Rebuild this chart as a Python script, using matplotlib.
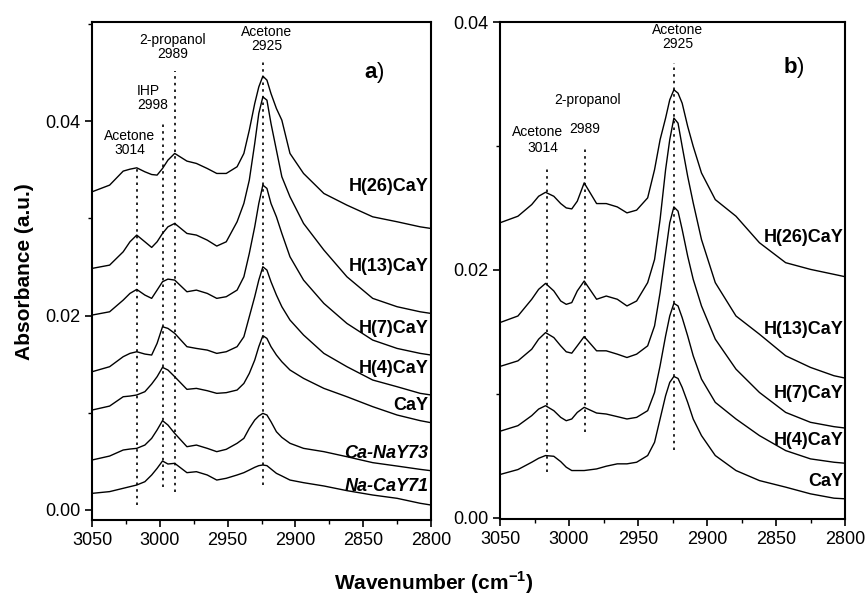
import matplotlib
matplotlib.use('Agg')
import matplotlib.pyplot as plt
from matplotlib.ticker import MultipleLocator

plt.rcParams['font.family'] = ['Liberation Sans', 'DejaVu Sans']
plt.rcParams['mathtext.fontset'] = 'custom'
plt.rcParams['mathtext.rm'] = 'Liberation Sans'
plt.rcParams['mathtext.bf'] = 'Liberation Sans:bold'

# wavenumber grid (cm-1) shared by all spectra
wn = [3050, 3037, 3027, 3022, 3017, 3011, 3006, 3002, 2998, 2994, 2989, 2980, 2973,
      2965, 2958, 2951, 2943, 2938, 2934, 2930, 2927, 2924, 2921, 2918, 2914, 2910,
      2904, 2894, 2879, 2862, 2843, 2825, 2808, 2800]

# panel a spectra
a_h26 = [0.03273, 0.03342, 0.03486, 0.03506, 0.03520, 0.03479, 0.03451, 0.03445, 0.03513,
         0.03599, 0.03668, 0.03589, 0.03565, 0.03513, 0.03462, 0.03462, 0.03531, 0.03668,
         0.03907, 0.04181, 0.04352, 0.04463, 0.04422, 0.04284, 0.04130, 0.04010, 0.03668,
         0.03462, 0.03256, 0.03136, 0.03016, 0.02965, 0.02913, 0.02896]
a_h13 = [0.02485, 0.02519, 0.02656, 0.02759, 0.02828, 0.02759, 0.02701, 0.02759, 0.02845,
         0.02913, 0.02948, 0.02845, 0.02828, 0.02776, 0.02715, 0.02759, 0.02965, 0.03154,
         0.03393, 0.03770, 0.04079, 0.04250, 0.04216, 0.03976, 0.03702, 0.03428, 0.03222,
         0.02948, 0.02674, 0.02399, 0.02177, 0.02091, 0.02039, 0.02022]
a_h7 = [0.02005, 0.02039, 0.02159, 0.02228, 0.02269, 0.02211, 0.02177, 0.02262, 0.02348,
        0.02375, 0.02365, 0.02245, 0.02262, 0.02228, 0.02177, 0.02194, 0.02262, 0.02399,
        0.02639, 0.02913, 0.03153, 0.03342, 0.03308, 0.03153, 0.03016, 0.02845, 0.02605,
        0.02365, 0.02125, 0.01919, 0.01748, 0.01662, 0.01611, 0.01594]
a_h4 = [0.01422, 0.01474, 0.01577, 0.01611, 0.01628, 0.01604, 0.01594, 0.01714, 0.01885,
        0.01868, 0.01817, 0.01680, 0.01662, 0.01645, 0.01611, 0.01628, 0.01680, 0.01782,
        0.01988, 0.02194, 0.02365, 0.02502, 0.02468, 0.02348, 0.02211, 0.02091, 0.01954,
        0.01800, 0.01611, 0.01474, 0.01337, 0.01268, 0.01200, 0.01183]
a_cay = [0.01028, 0.01069, 0.01165, 0.01172, 0.01183, 0.01217, 0.01296, 0.01371, 0.01467,
         0.01440, 0.01371, 0.01241, 0.01251, 0.01227, 0.01200, 0.01207, 0.01234, 0.01302,
         0.01405, 0.01542, 0.01680, 0.01793, 0.01765, 0.01680, 0.01594, 0.01525, 0.01440,
         0.01354, 0.01251, 0.01165, 0.01063, 0.00977, 0.00919, 0.00898]
a_canay73 = [0.00514, 0.00555, 0.00617, 0.00627, 0.00634, 0.00668, 0.00737, 0.00823, 0.00919,
             0.00874, 0.00788, 0.00651, 0.00668, 0.00634, 0.00600, 0.00624, 0.00686, 0.00737,
             0.00840, 0.00925, 0.00967, 0.00994, 0.00977, 0.00908, 0.00805, 0.00747, 0.00686,
             0.00634, 0.00600, 0.00548, 0.00487, 0.00452, 0.00418, 0.00404]
a_nacay71 = [0.00171, 0.00189, 0.00223, 0.00240, 0.00257, 0.00291, 0.00360, 0.00428, 0.00504,
             0.00473, 0.00480, 0.00384, 0.00394, 0.00360, 0.00308, 0.00326, 0.00360, 0.00384,
             0.00411, 0.00439, 0.00456, 0.00463, 0.00456, 0.00422, 0.00377, 0.00350, 0.00308,
             0.00281, 0.00247, 0.00199, 0.00154, 0.00120, 0.00069, 0.00051]

# panel b spectra
b_h26 = [0.02380, 0.02433, 0.02527, 0.02594, 0.02626, 0.02594, 0.02535, 0.02500, 0.02492,
         0.02554, 0.02702, 0.02535, 0.02535, 0.02508, 0.02460, 0.02482, 0.02581, 0.02809,
         0.03050, 0.03225, 0.03372, 0.03453, 0.03426, 0.03345, 0.03158, 0.02997, 0.02782,
         0.02567, 0.02433, 0.02219, 0.02058, 0.02004, 0.01964, 0.01945]
b_h13 = [0.01575, 0.01628, 0.01763, 0.01843, 0.01891, 0.01830, 0.01749, 0.01722, 0.01736,
         0.01830, 0.01910, 0.01763, 0.01789, 0.01763, 0.01709, 0.01749, 0.01897, 0.02084,
         0.02406, 0.02809, 0.03050, 0.03225, 0.03184, 0.02997, 0.02755, 0.02541, 0.02245,
         0.01897, 0.01628, 0.01481, 0.01307, 0.01213, 0.01146, 0.01127]
b_h7 = [0.01221, 0.01266, 0.01360, 0.01441, 0.01494, 0.01454, 0.01387, 0.01339, 0.01328,
        0.01387, 0.01462, 0.01347, 0.01347, 0.01320, 0.01293, 0.01320, 0.01387, 0.01548,
        0.01816, 0.02138, 0.02380, 0.02508, 0.02474, 0.02326, 0.02111, 0.01924, 0.01709,
        0.01441, 0.01199, 0.01011, 0.00850, 0.00770, 0.00735, 0.00724]
b_h4 = [0.00698, 0.00743, 0.00824, 0.00877, 0.00904, 0.00864, 0.00810, 0.00783, 0.00797,
        0.00850, 0.00891, 0.00845, 0.00837, 0.00816, 0.00797, 0.00810, 0.00864, 0.01011,
        0.01226, 0.01467, 0.01628, 0.01730, 0.01709, 0.01615, 0.01467, 0.01307, 0.01119,
        0.00931, 0.00797, 0.00663, 0.00542, 0.00475, 0.00448, 0.00440]
b_cay = [0.00349, 0.00389, 0.00448, 0.00480, 0.00502, 0.00496, 0.00453, 0.00408, 0.00381,
         0.00381, 0.00381, 0.00394, 0.00416, 0.00435, 0.00435, 0.00448, 0.00502, 0.00609,
         0.00797, 0.00985, 0.01092, 0.01140, 0.01124, 0.01052, 0.00931, 0.00797, 0.00663,
         0.00502, 0.00381, 0.00300, 0.00247, 0.00193, 0.00158, 0.00153]

a_series = [a_h26, a_h13, a_h7, a_h4, a_cay, a_canay73, a_nacay71]
a_names = ['H(26)CaY', 'H(13)CaY', 'H(7)CaY', 'H(4)CaY', 'CaY', 'Ca-NaY73', 'Na-CaY71']
a_name_y = [0.0333, 0.0250, 0.0187, 0.0146, 0.0108, 0.0058, 0.0024]
b_series = [b_h26, b_h13, b_h7, b_h4, b_cay]
b_names = ['H(26)CaY', 'H(13)CaY', 'H(7)CaY', 'H(4)CaY', 'CaY']
b_name_y = [0.0226, 0.0152, 0.0100, 0.0062, 0.0029]

# dotted marker lines: (wavenumber, ymin, ymax)
a_marks = [(3017, 0.0005, 0.0352), (2998, 0.0024, 0.0399), (2989, 0.0019, 0.0452), (2924, 0.0026, 0.0461)]
b_marks = [(3016, 0.0037, 0.0283), (2988.5, 0.0069, 0.0299), (2924, 0.0055, 0.0367)]

fig = plt.figure(figsize=(8.68, 6.01), dpi=100)
ax1 = fig.add_axes([92/868, 1-520/601, 339/868, 498/601])
ax2 = fig.add_axes([500/868, 1-519/601, 345/868, 497/601])


def style(ax):
    ax.set_xlim(3050, 2800)
    ax.xaxis.set_major_locator(MultipleLocator(50))
    ax.xaxis.set_minor_locator(MultipleLocator(25))
    ax.yaxis.set_major_locator(MultipleLocator(0.02))
    ax.yaxis.set_minor_locator(MultipleLocator(0.01))
    ax.yaxis.set_major_formatter(matplotlib.ticker.FormatStrFormatter('%.2f'))
    ax.tick_params(which='major', direction='out', length=5, width=1.2, labelsize=13,
                   top=False, right=False)
    ax.tick_params(which='minor', direction='out', length=3, width=1.0, top=False, right=False)
    for s in ax.spines.values():
        s.set_linewidth(1.5)


for ys in a_series:
    ax1.plot(wn, ys, color='black', lw=1.0)
for w, y0, y1 in a_marks:
    ax1.plot([w, w], [y0, y1], color='black', lw=1.2, ls=(0, (1.5, 2.5)))
for name, y in zip(a_names, a_name_y):
    st = 'italic' if '-' in name else 'normal'
    ax1.text(2802, y, name, ha='right', va='center', fontsize=13, fontweight='bold', style=st)
ax1.set_ylim(-0.00103, 0.0502)
style(ax1)

ax1.text(3022, 0.0378, 'Acetone\n3014', ha='center', va='center', fontsize=10, linespacing=1.0)
ax1.text(3016.8, 0.0424, 'IHP\n2998', ha='left', va='center', fontsize=10, linespacing=1.0)
ax1.text(2990.3, 0.0476, '2-propanol\n2989', ha='center', va='center', fontsize=10, linespacing=1.0)
ax1.text(2921, 0.0484, 'Acetone\n2925', ha='center', va='center', fontsize=10, linespacing=1.0)
ax1.text(2839.8, 0.0450, 'a', ha='right', va='center', fontsize=16, fontweight='bold')
ax1.text(2839.8, 0.0450, ')', ha='left', va='center', fontsize=16)

for ys in b_series:
    ax2.plot(wn, ys, color='black', lw=1.0)
for w, y0, y1 in b_marks:
    ax2.plot([w, w], [y0, y1], color='black', lw=1.2, ls=(0, (1.5, 2.5)))
for name, y in zip(b_names, b_name_y):
    ax2.text(2801.4, y, name, ha='right', va='center', fontsize=13, fontweight='bold')
ax2.set_ylim(-0.0001, 0.04)
style(ax2)

ax2.text(2921, 0.0388, 'Acetone\n2925', ha='center', va='center', fontsize=10, linespacing=1.0)
ax2.text(2986.2, 0.0337, '2-propanol', ha='center', va='center', fontsize=10)
ax2.text(2988.4, 0.0314, '2989', ha='center', va='center', fontsize=10)
ax2.text(3022.5, 0.0311, 'Acetone', ha='center', va='center', fontsize=10)
ax2.text(3018.8, 0.0298, '3014', ha='center', va='center', fontsize=10)
ax2.text(2834.8, 0.0363, 'b', ha='right', va='center', fontsize=16, fontweight='bold')
ax2.text(2834.8, 0.0363, ')', ha='left', va='center', fontsize=16)

fig.text(25/868, 1-272/601, 'Absorbance (a.u.)', rotation=90, ha='center', va='center',
         fontsize=15, fontweight='bold')
fig.text(434/868, 1-583/601, r'Wavenumber (cm$^{\mathbf{-1}}$)', ha='center', va='center',
         fontsize=15, fontweight='bold')

fig.savefig('out.png', dpi=100)
